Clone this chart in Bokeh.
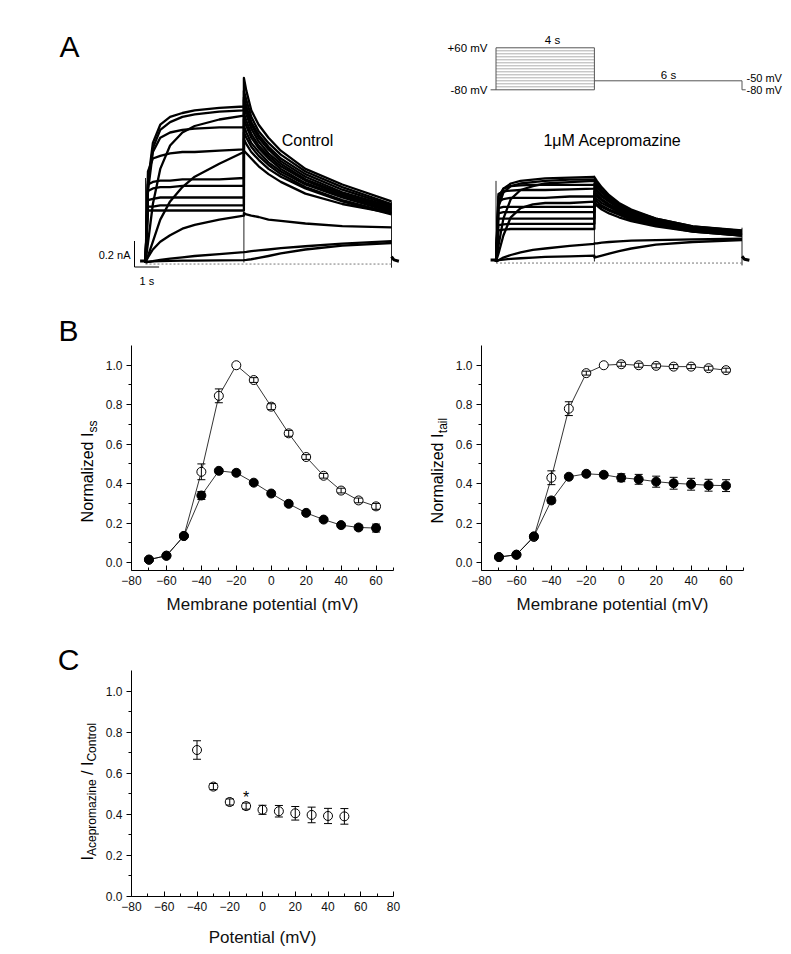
import math
from bokeh.plotting import figure
from bokeh.layouts import column, row
from bokeh.models import (Range1d, Label, Whisker, TeeHead, ColumnDataSource,
                          FixedTicker, PrintfTickFormatter)
from bokeh.core.properties import value
from bokeh.embed import file_html
from bokeh.resources import INLINE

FONT = "Liberation Sans"

# ---------------- Panel A: current traces (s, nA) ----------------
step_t = [0.0, 0.1, 0.3, 0.6, 1.0, 1.5, 2.0, 3.0, 4.0]
tail_t = [4.0, 4.1, 4.3, 4.6, 5.0, 5.5, 6.5, 8.0, 10.0]

ctrl_step = [
    [0, 0.62, 0.92, 1.06, 1.12, 1.15, 1.17, 1.19, 1.20],
    [0, 0.60, 0.88, 1.02, 1.08, 1.12, 1.14, 1.16, 1.17],
    [0, 0.55, 0.85, 0.96, 1.00, 1.02, 1.03, 1.04, 1.04],
    [0, 0.15, 0.45, 0.72, 0.90, 1.00, 1.05, 1.10, 1.13],
    [0, 0.70, 0.80, 0.82, 0.84, 0.85, 0.85, 0.86, 0.87],
    [0, 0.05, 0.16, 0.33, 0.47, 0.58, 0.66, 0.76, 0.85],
    [0, 0.60, 0.62, 0.63, 0.63, 0.64, 0.64, 0.64, 0.65],
    [0, 0.55, 0.57, 0.58, 0.58, 0.59, 0.59, 0.59, 0.59],
    [0, 0.48, 0.49, 0.50, 0.50, 0.50, 0.50, 0.50, 0.50],
    [0, 0.43, 0.43, 0.44, 0.44, 0.44, 0.44, 0.44, 0.44],
    [0, 0.40, 0.40, 0.40, 0.40, 0.40, 0.40, 0.40, 0.40],
    [0, 0.04, 0.10, 0.16, 0.21, 0.26, 0.29, 0.33, 0.36],
    [0, 0.005, 0.01, 0.02, 0.03, 0.04, 0.05, 0.065, 0.08],
    [0, 0.005, 0.008, 0.01, 0.012, 0.014, 0.015, 0.017, 0.018],
]
ctrl_tail = [
    [1.42, 1.32, 1.17, 1.06, 0.96, 0.86, 0.72, 0.60, 0.47],
    [1.32, 1.25, 1.12, 1.01, 0.92, 0.83, 0.70, 0.58, 0.45],
    [1.27, 1.20, 1.08, 0.98, 0.89, 0.80, 0.68, 0.56, 0.44],
    [1.25, 1.18, 1.06, 0.96, 0.87, 0.78, 0.66, 0.54, 0.43],
    [1.20, 1.14, 1.03, 0.93, 0.84, 0.76, 0.64, 0.53, 0.42],
    [0.86, 0.84, 0.80, 0.74, 0.68, 0.62, 0.53, 0.45, 0.38],
    [1.15, 1.09, 0.99, 0.90, 0.82, 0.74, 0.63, 0.52, 0.41],
    [1.10, 1.05, 0.96, 0.88, 0.80, 0.72, 0.61, 0.51, 0.40],
    [1.05, 1.00, 0.92, 0.85, 0.77, 0.70, 0.60, 0.50, 0.39],
    [1.00, 0.96, 0.89, 0.82, 0.75, 0.68, 0.58, 0.48, 0.38],
    [0.95, 0.91, 0.85, 0.79, 0.72, 0.66, 0.57, 0.47, 0.37],
    [0.38, 0.37, 0.36, 0.35, 0.33, 0.32, 0.30, 0.28, 0.27],
    [0.08, 0.082, 0.087, 0.093, 0.10, 0.11, 0.125, 0.145, 0.165],
    [0.018, 0.02, 0.025, 0.035, 0.05, 0.07, 0.10, 0.13, 0.15],
]
drug_step = [
    [0, 0.45, 0.56, 0.60, 0.62, 0.63, 0.64, 0.645, 0.65],
    [0, 0.42, 0.53, 0.58, 0.60, 0.61, 0.62, 0.63, 0.63],
    [0, 0.12, 0.33, 0.48, 0.55, 0.58, 0.60, 0.61, 0.62],
    [0, 0.50, 0.56, 0.58, 0.585, 0.59, 0.59, 0.59, 0.59],
    [0, 0.52, 0.54, 0.545, 0.55, 0.55, 0.55, 0.555, 0.56],
    [0, 0.46, 0.48, 0.49, 0.49, 0.49, 0.49, 0.50, 0.50],
    [0, 0.06, 0.20, 0.34, 0.41, 0.44, 0.45, 0.45, 0.46],
    [0, 0.41, 0.42, 0.42, 0.42, 0.42, 0.42, 0.42, 0.42],
    [0, 0.37, 0.38, 0.38, 0.38, 0.38, 0.38, 0.38, 0.38],
    [0, 0.33, 0.33, 0.33, 0.33, 0.33, 0.33, 0.33, 0.33],
    [0, 0.28, 0.285, 0.29, 0.29, 0.29, 0.29, 0.29, 0.29],
    [0, 0.24, 0.245, 0.25, 0.25, 0.25, 0.25, 0.25, 0.25],
    [0, 0.01, 0.03, 0.05, 0.07, 0.09, 0.10, 0.12, 0.135],
    [0, 0.01, 0.015, 0.02, 0.025, 0.03, 0.035, 0.04, 0.045],
]
drug_tail = [
    [0.65, 0.62, 0.57, 0.51, 0.45, 0.40, 0.33, 0.27, 0.24],
    [0.63, 0.60, 0.55, 0.50, 0.44, 0.39, 0.33, 0.27, 0.235],
    [0.62, 0.59, 0.54, 0.49, 0.43, 0.38, 0.32, 0.26, 0.23],
    [0.60, 0.57, 0.53, 0.48, 0.43, 0.38, 0.32, 0.26, 0.225],
    [0.58, 0.55, 0.51, 0.47, 0.42, 0.37, 0.31, 0.26, 0.22],
    [0.56, 0.54, 0.50, 0.46, 0.41, 0.36, 0.31, 0.25, 0.215],
    [0.45, 0.43, 0.40, 0.37, 0.34, 0.31, 0.27, 0.23, 0.20],
    [0.54, 0.52, 0.48, 0.44, 0.40, 0.35, 0.30, 0.25, 0.21],
    [0.52, 0.50, 0.47, 0.43, 0.39, 0.35, 0.30, 0.25, 0.21],
    [0.50, 0.48, 0.45, 0.42, 0.38, 0.34, 0.29, 0.24, 0.205],
    [0.48, 0.46, 0.43, 0.40, 0.37, 0.33, 0.28, 0.24, 0.20],
    [0.46, 0.44, 0.42, 0.39, 0.36, 0.32, 0.28, 0.23, 0.20],
    [0.14, 0.14, 0.145, 0.15, 0.155, 0.16, 0.165, 0.17, 0.175],
    [0.03, 0.035, 0.045, 0.06, 0.08, 0.10, 0.13, 0.15, 0.165],
]
# switching transients at t = 0, 4, 10 s
trans_t = [0.0, 4.0, 10.0]
ctrl_trans_lo = [0.0, 0.0, -0.04]
ctrl_trans_hi = [0.65, 1.42, 0.47]
drug_trans_lo = [0.0, 0.0, -0.03]
drug_trans_hi = [0.62, 0.66, 0.26]
pre_t = [-0.22, 0.0]
pre_i = [0.012, 0.012]
post_t = [10.0, 10.1, 10.3]
ctrl_post_i = [0.045, 0.02, 0.01]
drug_post_i = [0.04, 0.018, 0.01]

# voltage protocol (mV)
prot_levels = [-80, -70, -60, -50, -40, -30, -20, -10, 0, 10, 20, 30, 40, 50, 60]
prot_hold = -80
prot_tail = -50
prot_step_dur = 4.0
prot_tail_end = 10.0

# ---------------- Panel B ----------------
V = [-70, -60, -50, -40, -30, -20, -10, 0, 10, 20, 30, 40, 50, 60]
iss_ctrl = [0.015, 0.035, 0.135, 0.46, 0.845, 1.0, 0.925, 0.79, 0.655, 0.535, 0.44, 0.365, 0.315, 0.285]
iss_ctrl_err = [0, 0, 0.01, 0.04, 0.035, 0, 0.012, 0.015, 0.015, 0.012, 0.012, 0.012, 0.012, 0.015]
iss_drug = [0.015, 0.035, 0.135, 0.34, 0.465, 0.455, 0.405, 0.35, 0.298, 0.252, 0.218, 0.19, 0.178, 0.175]
iss_drug_err = [0.005, 0.005, 0.01, 0.02, 0.01, 0.01, 0.01, 0.01, 0.01, 0.01, 0.01, 0.01, 0.012, 0.02]
tail_ctrl = [0.028, 0.04, 0.13, 0.43, 0.78, 0.96, 1.0, 1.005, 1.0, 0.997, 0.993, 0.993, 0.985, 0.975]
tail_ctrl_err = [0, 0, 0.01, 0.035, 0.035, 0.01, 0, 0.01, 0.01, 0.01, 0.01, 0.01, 0.01, 0.01]
tail_drug = [0.028, 0.04, 0.133, 0.315, 0.435, 0.45, 0.445, 0.43, 0.422, 0.41, 0.402, 0.397, 0.392, 0.39]
tail_drug_err = [0.005, 0.005, 0.01, 0.015, 0.01, 0.01, 0.01, 0.02, 0.025, 0.028, 0.03, 0.03, 0.03, 0.03]

# ---------------- Panel C ----------------
ratio_v = [-40, -30, -20, -10, 0, 10, 20, 30, 40, 50]
ratio = [0.713, 0.535, 0.46, 0.44, 0.422, 0.415, 0.405, 0.397, 0.392, 0.39]
ratio_err = [0.045, 0.015, 0.015, 0.015, 0.022, 0.028, 0.033, 0.038, 0.037, 0.038]
star_v = -10

xticks_B = [-80, -60, -40, -20, 0, 20, 40, 60]
xminor_B = [-70, -50, -30, -10, 10, 30, 50, 70]
xticks_C = [-80, -60, -40, -20, 0, 20, 40, 60, 80]
xminor_C = [-70, -50, -30, -10, 10, 30, 50, 70]
yticks = [0.0, 0.2, 0.4, 0.6, 0.8, 1.0]
yminor = [0.1, 0.3, 0.5, 0.7, 0.9]


# ---------------- helpers ----------------
class Frame:
    def __init__(self, left, top, w, h, xr, yr):
        self.left, self.top, self.w, self.h, self.xr, self.yr = left, top, w, h, xr, yr

    def x(self, px):
        return self.xr[0] + (px - self.left) * (self.xr[1] - self.xr[0]) / self.w

    def y(self, py):
        return self.yr[1] - (py - self.top) * (self.yr[1] - self.yr[0]) / self.h


def label(p, x, y, text, size, align="left", baseline="middle", angle=0.0,
          y_range_name="default", color="black"):
    p.add_layout(Label(x=x, y=y, text=text, text_font=FONT,
                       text_font_size=f"{size}px", text_align=align,
                       text_baseline=baseline, angle=angle,
                       y_range_name=y_range_name, text_color=color))


def blank_fig(w, h, xr, yr):
    p = figure(width=w, height=h, x_range=Range1d(*xr), y_range=Range1d(*yr),
               x_axis_location=None, y_axis_location=None, toolbar_location=None,
               output_backend="svg", min_border=0)
    p.grid.visible = False
    p.outline_line_color = None
    p.frame_align = False
    return p


def page_fig(left, top, w, h):
    # blank strip: x = page px, y = -(page px)
    return blank_fig(w, h, (left, left + w), (-(top + h), -top))


def ptext(p, px, py, text, size, angle=0.0):
    p.text(x=[px], y=[-py], text=[text], angle=angle, text_font=value(FONT),
           text_font_size=value(f"{size}px"), text_align="center",
           text_baseline="middle", text_color="black")


def axis_fig(w, h, fr, page_left, page_top, xticks, xminor, xlabel, label_standoff):
    mb_left = fr.left - page_left
    mb_top = fr.top - page_top
    p = figure(width=w, height=h, x_range=Range1d(*fr.xr), y_range=Range1d(*fr.yr),
               toolbar_location=None, output_backend="svg",
               min_border_left=mb_left, min_border_right=w - mb_left - fr.w,
               min_border_top=mb_top, min_border_bottom=h - mb_top - fr.h)
    p.grid.visible = False
    p.outline_line_color = None
    p.frame_align = False
    xa, ya = p.xaxis[0], p.yaxis[0]
    xa.ticker = FixedTicker(ticks=xticks, minor_ticks=xminor)
    ya.ticker = FixedTicker(ticks=yticks, minor_ticks=yminor)
    ya.formatter = PrintfTickFormatter(format="%.1f")
    for a in (xa, ya):
        a.axis_line_color = "black"
        a.axis_line_width = 1
        a.major_tick_line_color = "black"
        a.minor_tick_line_color = "black"
        a.major_label_text_font = FONT
        a.major_label_text_font_size = "12px"
        a.major_label_text_color = "#111111"
    xa.major_tick_in, xa.major_tick_out = 5, 0
    xa.minor_tick_in, xa.minor_tick_out = 3, 0
    ya.major_tick_in, ya.major_tick_out = 0, 5
    ya.minor_tick_in, ya.minor_tick_out = 0, 3
    ya.major_label_standoff = 4
    xa.major_label_standoff = 5
    xa.axis_label = xlabel
    xa.axis_label_text_font = FONT
    xa.axis_label_text_font_size = "17px"
    xa.axis_label_text_font_style = "normal"
    xa.axis_label_text_color = "#111111"
    xa.axis_label_standoff = label_standoff
    return p


def whiskers(p, xs, ys, es):
    xx, lo, hi = [], [], []
    for x, y, e in zip(xs, ys, es):
        if e > 0:
            xx.append(x); lo.append(y - e); hi.append(y + e)
    src = ColumnDataSource(dict(x=xx, lower=lo, upper=hi))
    w = Whisker(source=src, base="x", lower="lower", upper="upper", dimension="height",
                line_color="black", line_width=1, level="overlay",
                upper_head=TeeHead(size=8, line_width=1, line_color="black"),
                lower_head=TeeHead(size=8, line_width=1, line_color="black"))
    p.add_layout(w)


def draw_traces(p, steps, tails, tlo, thi, post_i):
    p.segment(x0=trans_t, y0=tlo, x1=trans_t, y1=thi, line_color="#222222", line_width=1)
    p.line(x=[step_t[0], tail_t[-1]], y=[-0.012, -0.012], line_color="#777777",
           line_width=1, line_dash="2 2")
    for s, tl in zip(steps, tails):
        p.line(x=step_t + tail_t, y=s + tl, line_color="black", line_width=2.3,
               line_join="round")
    p.line(x=pre_t, y=pre_i, line_color="black", line_width=3)
    p.line(x=post_t, y=post_i, line_color="black", line_width=3)


up = math.pi / 2

# ---------------- Panel A left (Control) ----------------
PXS = 24.6   # px per second
PXA = 130.0  # px per nA
A1 = Frame(0, 0, 400, 300, (-145 / PXS, (400 - 145) / PXS),
           (-(300 - 262) / PXA, 262 / PXA))
pA1 = blank_fig(400, 300, A1.xr, A1.yr)
draw_traces(pA1, ctrl_step, ctrl_tail, ctrl_trans_lo, ctrl_trans_hi, ctrl_post_i)
sb_t, sb_i = A1.x(134), A1.y(266.5)
pA1.line(x=[sb_t, sb_t, sb_t + 1.0], y=[sb_i + 0.2, sb_i, sb_i], line_color="black", line_width=1)
label(pA1, A1.x(130), A1.y(254), "0.2 nA", 11, align="right")
label(pA1, sb_t + 0.5, A1.y(280), "1 s", 11, align="center")
label(pA1, A1.x(307), A1.y(140), "Control", 16, align="center")
label(pA1, A1.x(69), A1.y(46), "A", 30, align="center")

# ---------------- Panel A right (protocol + drug) ----------------
A2 = Frame(400, 0, 390, 300, (-(495.5 - 400) / PXS, (790 - 495.5) / PXS),
           (-(300 - 261) / PXA, 261 / PXA))
pA2 = blank_fig(390, 300, A2.xr, A2.yr)
PXM = 0.3  # px per mV
pA2.extra_y_ranges = {"mv": Range1d(-80 - (300 - 89.3) / PXM, 60 + 47.3 / PXM)}
draw_traces(pA2, drug_step, drug_tail, drug_trans_lo, drug_trans_hi, drug_post_i)
inner = prot_levels[1:-1]
pA2.multi_line(xs=[[0, prot_step_dur]] * len(inner), ys=[[v, v] for v in inner],
               line_color="#9a9a9a", line_width=0.8, y_range_name="mv")
top_v, bot_v = prot_levels[-1], prot_levels[0]
pA2.multi_line(
    xs=[[-0.22, prot_step_dur], [0, 0], [0, prot_step_dur], [prot_step_dur, prot_step_dur],
        [prot_step_dur, prot_tail_end, prot_tail_end, prot_tail_end + 0.15]],
    ys=[[prot_hold, prot_hold], [bot_v, top_v], [top_v, top_v], [bot_v, top_v],
        [prot_tail, prot_tail, prot_hold, prot_hold]],
    line_color="#555555", line_width=1, y_range_name="mv")
mv = lambda py: 60 - (py - 47.3) / PXM
label(pA2, A2.x(487), 60, "+60 mV", 11.5, align="right", y_range_name="mv")
label(pA2, A2.x(487), -80, "-80 mV", 11.5, align="right", y_range_name="mv")
label(pA2, A2.x(552), mv(39), "4 s", 11.5, align="center", y_range_name="mv")
label(pA2, A2.x(668), mv(74), "6 s", 11.5, align="center", y_range_name="mv")
label(pA2, A2.x(746), mv(77.5), "-50 mV", 11, align="left", y_range_name="mv")
label(pA2, A2.x(746), mv(89), "-80 mV", 11, align="left", y_range_name="mv")
label(pA2, A2.x(612), A2.y(140), "1\u03bcM Acepromazine", 16, align="center")

# ---------------- Panel B ----------------
B1 = Frame(131, 345, 262, 225, (-80, 70), (-0.04, 1.1))
B2 = Frame(481, 345, 262, 225, (-80, 70), (-0.04, 1.1))

lB1 = page_fig(0, 300, 99, 320)
ptext(lB1, 68, 330, "B", 30)
ptext(lB1, 86.5, 477, "Normalized I", 16, angle=up)
ptext(lB1, 92, 426, "ss", 12, angle=up)

lB2 = page_fig(398, 300, 51, 320)
ptext(lB2, 436.5, 478, "Normalized I", 16, angle=up)
ptext(lB2, 442, 425, "tail", 12, angle=up)


def panel_B(fr, page_left, width, ctrl, ctrl_err, drug, drug_err):
    p = axis_fig(width, 320, fr, page_left, 300, xticks_B, xminor_B,
                 "Membrane potential (mV)", 7)
    p.line(V, ctrl, line_color="black", line_width=0.8)
    p.line(V, drug, line_color="black", line_width=0.8)
    p.scatter(V, ctrl, marker="circle", size=9, fill_color="white", line_color="black", line_width=1)
    p.scatter(V, drug, marker="circle", size=9, fill_color="black", line_color="black", line_width=1)
    whiskers(p, V, ctrl, ctrl_err)
    whiskers(p, V, drug, drug_err)
    return p


pB1 = panel_B(B1, 99, 299, iss_ctrl, iss_ctrl_err, iss_drug, iss_drug_err)
pB2 = panel_B(B2, 449, 334, tail_ctrl, tail_ctrl_err, tail_drug, tail_drug_err)

# ---------------- Panel C ----------------
C = Frame(131, 670, 262, 226, (-80, 80), (0.0, 1.1))
lC = page_fig(0, 620, 99, 330)
ptext(lC, 68, 659, "C", 30)
ptext(lC, 86.5, 857.8, "I", 16, angle=up)
ptext(lC, 91.9, 817.2, "Acepromazine", 12, angle=up)
ptext(lC, 86.5, 767.8, "/ I", 16, angle=up)
ptext(lC, 91.9, 741.7, "Control", 12, angle=up)

pC = axis_fig(309, 330, C, 99, 620, xticks_C, xminor_C, "Potential (mV)", 14)
pC.scatter(ratio_v, ratio, marker="circle", size=9, fill_color="white", line_color="black", line_width=1)
whiskers(pC, ratio_v, ratio, ratio_err)
si = ratio_v.index(star_v)
label(pC, star_v, ratio[si] + ratio_err[si] + 0.025, "*", 16, align="center", baseline="middle")

layout = column(row(pA1, pA2), row(lB1, pB1, lB2, pB2), row(lC, pC))
open("out.html", "w").write(file_html(layout, INLINE))
